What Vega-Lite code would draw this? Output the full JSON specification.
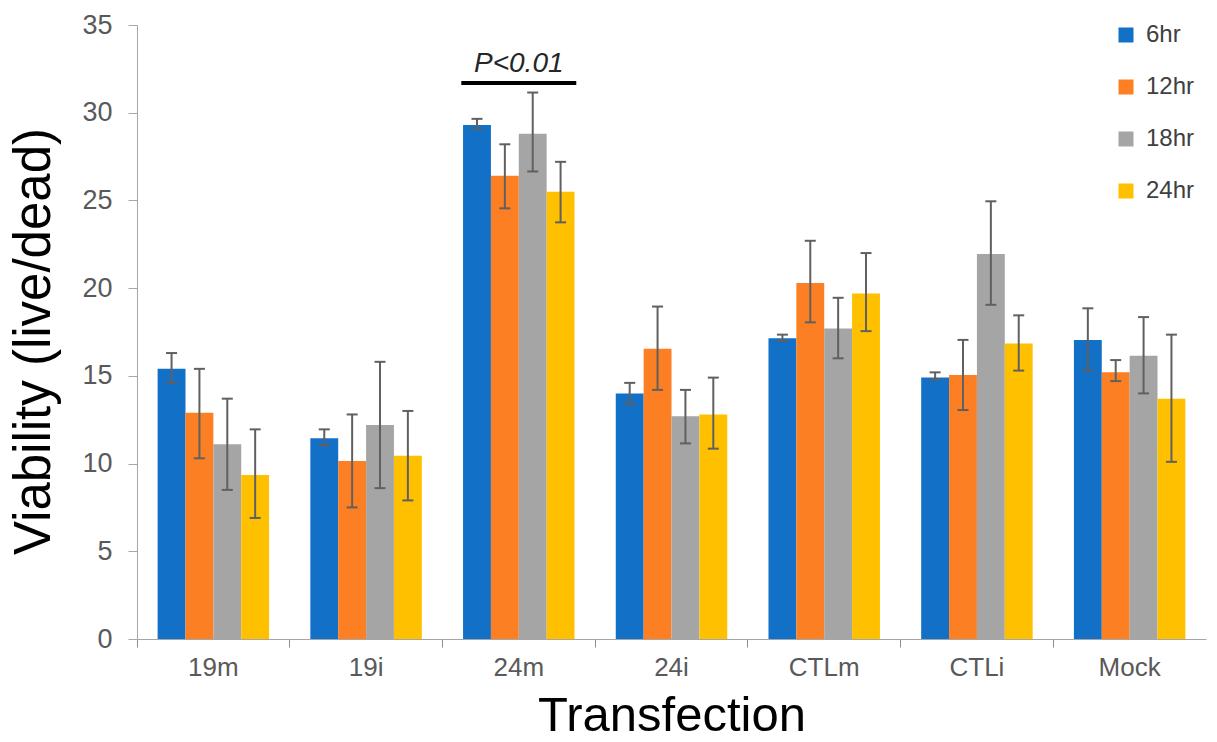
{
"$schema": "https://vega.github.io/schema/vega-lite/v6.json",
"width": 1069, "height": 614,
"autosize": "none",
"padding": {"left": 137, "top": 25, "right": 11, "bottom": 103},
"background": "white",
"config": {"view": {"stroke": null}, "font": "Liberation Sans"},
"datasets": {
"bars": [
{"g":"19m","t":"6hr","v":15.4,"lo":14.6,"hi":16.3},
{"g":"19m","t":"12hr","v":12.9,"lo":10.3,"hi":15.4},
{"g":"19m","t":"18hr","v":11.1,"lo":8.5,"hi":13.7},
{"g":"19m","t":"24hr","v":9.35,"lo":6.9,"hi":11.95},
{"g":"19i","t":"6hr","v":11.45,"lo":11.05,"hi":11.95},
{"g":"19i","t":"12hr","v":10.15,"lo":7.5,"hi":12.8},
{"g":"19i","t":"18hr","v":12.2,"lo":8.6,"hi":15.8},
{"g":"19i","t":"24hr","v":10.45,"lo":7.9,"hi":13.0},
{"g":"24m","t":"6hr","v":29.3,"lo":29.1,"hi":29.65},
{"g":"24m","t":"12hr","v":26.4,"lo":24.55,"hi":28.2},
{"g":"24m","t":"18hr","v":28.8,"lo":26.65,"hi":31.15},
{"g":"24m","t":"24hr","v":25.5,"lo":23.75,"hi":27.2},
{"g":"24i","t":"6hr","v":14.0,"lo":13.4,"hi":14.6},
{"g":"24i","t":"12hr","v":16.55,"lo":14.2,"hi":18.95},
{"g":"24i","t":"18hr","v":12.7,"lo":11.15,"hi":14.2},
{"g":"24i","t":"24hr","v":12.8,"lo":10.85,"hi":14.9},
{"g":"CTLm","t":"6hr","v":17.15,"lo":17.0,"hi":17.35},
{"g":"CTLm","t":"12hr","v":20.3,"lo":18.05,"hi":22.7},
{"g":"CTLm","t":"18hr","v":17.7,"lo":16.0,"hi":19.45},
{"g":"CTLm","t":"24hr","v":19.7,"lo":17.55,"hi":22.0},
{"g":"CTLi","t":"6hr","v":14.9,"lo":14.8,"hi":15.2},
{"g":"CTLi","t":"12hr","v":15.05,"lo":13.05,"hi":17.05},
{"g":"CTLi","t":"18hr","v":21.95,"lo":19.05,"hi":24.95},
{"g":"CTLi","t":"24hr","v":16.85,"lo":15.3,"hi":18.45},
{"g":"Mock","t":"6hr","v":17.05,"lo":15.3,"hi":18.85},
{"g":"Mock","t":"12hr","v":15.2,"lo":14.7,"hi":15.9},
{"g":"Mock","t":"18hr","v":16.15,"lo":14.0,"hi":18.35},
{"g":"Mock","t":"24hr","v":13.7,"lo":10.1,"hi":17.35}
],
"ann": [{"g":"24m","y":31.7,"ty":32.75,"label":"P<0.01"}]
},
"layer": [
{
"data": {"name": "bars"},
"mark": {"type": "bar"},
"encoding": {
"x": {"field": "g", "type": "nominal", "sort": ["19m","19i","24m","24i","CTLm","CTLi","Mock"],
 "scale": {"paddingInner": 0, "paddingOuter": 0},
 "title": "Transfection",
 "axis": {"bandPosition": 0, "labelAngle": 0, "labelFontSize": 26, "labelColor": "#595959", "labelPadding": 7, "tickSize": 8, "tickColor": "#8c8c8c", "domainColor": "#a6a6a6", "titleFontSize": 49, "titleFontWeight": "normal", "titleColor": "#000000", "titlePadding": 11}},
"xOffset": {"field": "t", "type": "nominal", "sort": ["6hr","12hr","18hr","24hr"], "scale": {"paddingInner": 0, "paddingOuter": 0.74}},
"y": {"field": "v", "type": "quantitative", "scale": {"domain": [0, 35]}, "title": "Viability (live/dead)",
 "axis": {"values": [0,5,10,15,20,25,30,35], "grid": false, "labelFontSize": 27, "labelColor": "#595959", "labelPadding": 16, "tickSize": 9, "tickColor": "#a6a6a6", "domainColor": "#a6a6a6", "titleFontSize": 51, "titleFontWeight": "normal", "titleColor": "#000000", "titlePadding": 21, "titleY": 316}},
"color": {"field": "t", "type": "nominal", "sort": ["6hr","12hr","18hr","24hr"],
 "scale": {"domain": ["6hr","12hr","18hr","24hr"], "range": ["#1270C7", "#FD7F23", "#A5A5A5", "#FFC000"]},
 "legend": {"title": null, "orient": "none", "legendX": 977, "legendY": -2, "symbolType": "square", "symbolSize": 225, "symbolStrokeWidth": 0, "labelFontSize": 24, "labelColor": "#404040", "rowPadding": 28, "padding": 0, "labelOffset": 8}}
}
},
{
"data": {"name": "bars"},
"mark": {"type": "rule", "color": "#606060", "strokeWidth": 2},
"encoding": {
"x": {"field": "g", "type": "nominal", "sort": ["19m","19i","24m","24i","CTLm","CTLi","Mock"]},
"xOffset": {"field": "t", "type": "nominal", "sort": ["6hr","12hr","18hr","24hr"]},
"y": {"field": "lo", "type": "quantitative", "title": "Viability (live/dead)"},
"y2": {"field": "hi"}
}
},
{
"data": {"name": "bars"},
"mark": {"type": "tick", "color": "#606060", "thickness": 2, "size": 11, "opacity": 1},
"encoding": {
"x": {"field": "g", "type": "nominal", "sort": ["19m","19i","24m","24i","CTLm","CTLi","Mock"]},
"xOffset": {"field": "t", "type": "nominal", "sort": ["6hr","12hr","18hr","24hr"]},
"y": {"field": "lo", "type": "quantitative", "title": "Viability (live/dead)"}
}
},
{
"data": {"name": "bars"},
"mark": {"type": "tick", "color": "#606060", "thickness": 2, "size": 11, "opacity": 1},
"encoding": {
"x": {"field": "g", "type": "nominal", "sort": ["19m","19i","24m","24i","CTLm","CTLi","Mock"]},
"xOffset": {"field": "t", "type": "nominal", "sort": ["6hr","12hr","18hr","24hr"]},
"y": {"field": "hi", "type": "quantitative", "title": "Viability (live/dead)"}
}
},
{
"data": {"name": "ann"},
"mark": {"type": "tick", "color": "#000000", "thickness": 4, "size": 115, "opacity": 1},
"encoding": {
"x": {"field": "g", "type": "nominal", "sort": ["19m","19i","24m","24i","CTLm","CTLi","Mock"]},
"y": {"field": "y", "type": "quantitative", "title": "Viability (live/dead)"}
}
},
{
"data": {"name": "ann"},
"mark": {"type": "text", "fontSize": 28, "fontStyle": "italic", "color": "#262626"},
"encoding": {
"x": {"field": "g", "type": "nominal", "sort": ["19m","19i","24m","24i","CTLm","CTLi","Mock"]},
"y": {"field": "ty", "type": "quantitative", "title": "Viability (live/dead)"},
"text": {"field": "label"}
}
}
]
}
